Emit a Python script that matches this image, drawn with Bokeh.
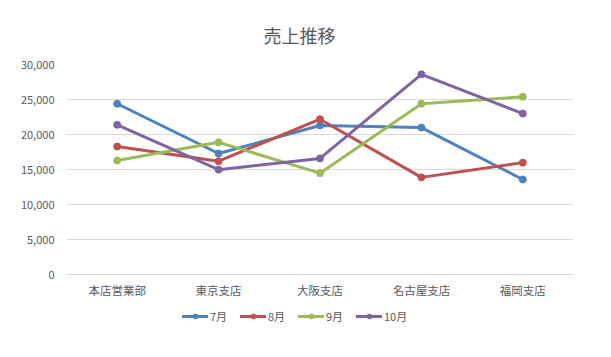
from bokeh.plotting import figure
from bokeh.models import Range1d, FactorRange, Legend, LegendItem, Title, FixedTicker, NumeralTickFormatter
from bokeh.embed import file_html
from bokeh.resources import INLINE

categories = ["本店営業部", "東京支店", "大阪支店", "名古屋支店", "福岡支店"]
jul = [24400, 17300, 21300, 21000, 13600]
aug = [18300, 16200, 22200, 13900, 16000]
sep = [16300, 18900, 14500, 24400, 25400]
octo = [21400, 15000, 16600, 28600, 23000]
series_names = ["7月", "8月", "9月", "10月"]
series_values = [jul, aug, sep, octo]
colors = ["#4F81BD", "#C0504D", "#9BBB59", "#8064A2"]
y_ticks = [0, 5000, 10000, 15000, 20000, 25000, 30000]
title_text = "売上推移"

FONT = "Noto Sans CJK JP"
TXT = "#595959"

# frame spans 64..327 px; 0 sits at ~274 px, leaving room for the legend inside the frame
p = figure(width=611, height=357, output_backend="svg", toolbar_location=None,
           x_range=FactorRange(*categories, range_padding=0),
           y_range=Range1d(-7518, 30000),
           min_border_left=66, min_border_right=38, min_border_top=64, min_border_bottom=30)
p.outline_line_color = None
p.background_fill_color = "white"
p.border_fill_color = "white"

t = Title(text=title_text, align="left", offset=197, text_font=FONT, text_font_size="18px",
          text_font_style="normal", text_color=TXT, standoff=31, vertical_align="middle")
p.add_layout(t, "above")

p.yaxis.ticker = FixedTicker(ticks=y_ticks)
p.yaxis.formatter = NumeralTickFormatter(format="0,0")
p.yaxis.axis_line_color = None
p.yaxis.major_tick_line_color = None
p.yaxis.minor_tick_line_color = None
p.yaxis.major_tick_out = 0
p.yaxis.major_label_standoff = 12
p.yaxis.major_label_text_font = FONT
p.yaxis.major_label_text_font_size = "11px"
p.yaxis.major_label_text_color = TXT

p.xaxis.fixed_location = 0
p.xaxis.axis_line_color = "#D9D9D9"
p.xaxis.major_tick_line_color = None
p.xaxis.minor_tick_line_color = None
p.xaxis.major_tick_out = 0
p.xaxis.major_tick_in = 0
p.xaxis.major_label_standoff = 7
p.xaxis.major_label_text_font = FONT
p.xaxis.major_label_text_font_size = "11.5px"
p.xaxis.major_label_text_color = TXT

p.xgrid.grid_line_color = None
p.ygrid.grid_line_color = "#D9D9D9"
p.ygrid.grid_line_width = 1

items = []
for name, vals, c in zip(series_names, series_values, colors):
    l = p.line(categories, vals, line_color=c, line_width=3, line_join="round", line_cap="round")
    s = p.scatter(categories, vals, size=7, fill_color=c, line_color=c)
    items.append(LegendItem(label=name, renderers=[l, s]))

legend = Legend(items=items, orientation="horizontal", location=(116, 3),
                border_line_color=None, background_fill_alpha=0, padding=0, margin=0,
                spacing=10, label_standoff=2, glyph_width=26, glyph_height=12,
                label_text_font=FONT, label_text_font_size="11px", label_text_color=TXT,
                label_height=12)
p.add_layout(legend, "center")

open("out.html", "w").write(file_html(p, INLINE))
